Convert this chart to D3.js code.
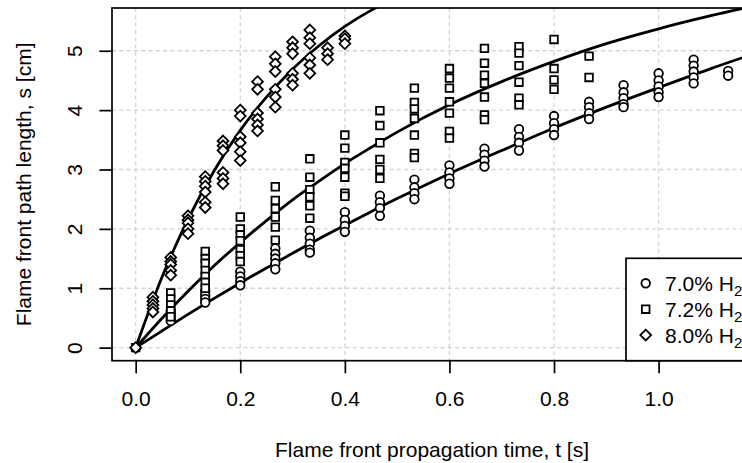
<!DOCTYPE html>
<html>
<head>
<meta charset="utf-8">
<script src="https://cdn.jsdelivr.net/npm/d3@7"></script>
<style>
    body { margin: 0; background: #fff; }
    text { font-family: "Liberation Sans", Arial, sans-serif; }
</style>
</head>
<body>
<svg id="chart"></svg>
<script>
const times70 = [0, 0.067, 0.133, 0.2, 0.267, 0.333, 0.4, 0.467, 0.533, 0.6, 0.667, 0.733, 0.8, 0.867, 0.933, 1.0, 1.067, 1.133];
const s70 = [
    [0], [0.62, 0.56, 0.5, 0.45], [0.95, 0.88, 0.82, 0.76], [1.28, 1.2, 1.12, 1.05],
    [1.67, 1.58, 1.5, 1.42, 1.32], [1.97, 1.85, 1.75, 1.65, 1.6], [2.28, 2.15, 2.05, 1.95],
    [2.56, 2.45, 2.35, 2.22], [2.83, 2.7, 2.6, 2.5], [3.07, 2.95, 2.85, 2.76],
    [3.35, 3.25, 3.15, 3.05], [3.68, 3.55, 3.45, 3.32], [3.9, 3.78, 3.68, 3.58],
    [4.14, 4.05, 3.95, 3.85], [4.42, 4.3, 4.2, 4.1, 4.05], [4.62, 4.5, 4.4, 4.3, 4.22],
    [4.85, 4.75, 4.65, 4.55, 4.45], [4.66, 4.58]
];

const times72 = [0, 0.067, 0.133, 0.2, 0.267, 0.333, 0.4, 0.467, 0.533, 0.6, 0.667, 0.733, 0.8, 0.867];
const s72 = [
    [0], [0.92, 0.82, 0.72, 0.62, 0.52], [1.62, 1.5, 1.42, 1.3, 1.2, 1.1, 1.0],
    [2.2, 2.0, 1.9, 1.8, 1.65, 1.55, 1.45], [2.71, 2.48, 2.34, 2.2, 2.03, 1.81],
    [3.18, 2.87, 2.66, 2.54, 2.39, 2.18], [3.58, 3.36, 3.12, 3.02, 2.87, 2.6, 2.55],
    [3.99, 3.74, 3.45, 3.17, 3.0, 2.85], [4.37, 4.13, 4.02, 3.86, 3.58, 3.27, 3.2],
    [4.7, 4.54, 4.37, 4.14, 3.95, 3.64, 3.53], [5.04, 4.79, 4.59, 4.45, 4.22, 3.92, 3.84],
    [5.07, 4.96, 4.75, 4.47, 4.2, 4.09], [5.19, 4.7, 4.51, 4.35], [4.91, 4.55]
];

const times80 = [0, 0.033, 0.067, 0.1, 0.133, 0.167, 0.2, 0.233, 0.267, 0.3, 0.333, 0.367, 0.4];
const s80 = [
    [0], [0.85, 0.78, 0.72, 0.66, 0.6], [1.52, 1.45, 1.4, 1.3, 1.22], [2.22, 2.15, 2.1, 2.0, 1.92],
    [2.88, 2.8, 2.72, 2.62, 2.45, 2.36], [3.48, 3.4, 3.32, 2.95, 2.85, 2.76],
    [4.0, 3.9, 3.55, 3.45, 3.3, 3.15], [4.48, 4.35, 3.95, 3.85, 3.75, 3.65],
    [4.9, 4.78, 4.65, 4.35, 4.22, 4.05], [5.15, 5.05, 4.95, 4.62, 4.52, 4.42],
    [5.35, 5.22, 5.12, 4.88, 4.76, 4.62], [5.05, 4.95, 4.85], [5.25, 5.2, 5.12]
];

// fitted curves, read at these times
const fitTimes = [0, 0.05, 0.1, 0.15, 0.2, 0.25, 0.3, 0.35, 0.4, 0.45, 0.5, 0.6, 0.7, 0.8, 0.9, 1.0, 1.1, 1.2];
const fit70 = [0, 0.28, 0.56, 0.83, 1.09, 1.34, 1.59, 1.83, 2.06, 2.29, 2.51, 2.93, 3.32, 3.70, 4.05, 4.38, 4.70, 5.0];
const fit72 = [0, 0.49, 0.95, 1.38, 1.77, 2.14, 2.49, 2.80, 3.10, 3.37, 3.63, 4.09, 4.48, 4.82, 5.12, 5.37, 5.59, 5.79];
const fit80 = [0, 1.18, 2.16, 2.98, 3.66, 4.22, 4.69, 5.08, 5.41, 5.68, 5.90, 6.24];

const xTicks = [0, 0.2, 0.4, 0.6, 0.8, 1.0];
const yTicks = [0, 1, 2, 3, 4, 5];
const legendLabels = ["7.0% H", "7.2% H", "8.0% H"];

const width = 742, height = 463;
const plot = {left: 112, top: 8, right: 752, bottom: 360.7};
const fontSize = 21;

const svg = d3.select("#chart")
    .attr("width", width)
    .attr("height", height);

const x = d3.scaleLinear().domain([-0.0453, 1.1786]).range([plot.left, plot.right]);
const y = d3.scaleLinear().domain([-0.22, 5.72]).range([plot.bottom, plot.top]);

svg.append("clipPath").attr("id", "clip")
    .append("rect")
    .attr("x", plot.left).attr("y", plot.top)
    .attr("width", plot.right - plot.left).attr("height", plot.bottom - plot.top);

// grid
const grid = svg.append("g")
    .attr("stroke", "#d3d3d3")
    .attr("stroke-width", 1.3)
    .attr("stroke-dasharray", "4,3.3");
grid.selectAll(".gx").data(xTicks).enter().append("line")
    .attr("x1", d => x(d)).attr("x2", d => x(d))
    .attr("y1", plot.top).attr("y2", plot.bottom);
grid.selectAll(".gy").data(yTicks).enter().append("line")
    .attr("x1", plot.left).attr("x2", plot.right)
    .attr("y1", d => y(d)).attr("y2", d => y(d));

// symbols like R pch 1, 0, 5
function circlePath(r) {
    return `M${r},0A${r},${r} 0 1,1 ${-r},0A${r},${r} 0 1,1 ${r},0Z`;
}
function squarePath(h) {
    return `M${-h},${-h}H${h}V${h}H${-h}Z`;
}
function diamondPath(h) {
    return `M0,${-h}L${h},0L0,${h}L${-h},0Z`;
}

const series = [
    {t: times70, s: s70, fitS: fit70, shape: circlePath(4.3)},
    {t: times72, s: s72, fitS: fit72, shape: squarePath(3.8)},
    {t: times80, s: s80, fitS: fit80, shape: diamondPath(5.4)}
];

const dataLayer = svg.append("g").attr("clip-path", "url(#clip)");

// fitted curves
const line = d3.line()
    .x(d => x(d[0]))
    .y(d => y(d[1]))
    .curve(d3.curveMonotoneX);

series.forEach(ser => {
    const pts = ser.fitS.map((v, i) => [fitTimes[i], v]);
    dataLayer.append("path")
        .attr("d", line(pts))
        .attr("fill", "none")
        .attr("stroke", "black")
        .attr("stroke-width", 2.8);
});

// points
series.forEach(ser => {
    const pts = [];
    ser.t.forEach((t, i) => ser.s[i].forEach(v => pts.push([t, v])));
    dataLayer.selectAll(null)
        .data(pts)
        .enter().append("path")
        .attr("d", ser.shape)
        .attr("transform", d => `translate(${x(d[0])},${y(d[1])})`)
        .attr("fill", "white")
        .attr("stroke", "black")
        .attr("stroke-width", 1.8);
});

// axes
const xAxis = svg.append("g")
    .attr("transform", `translate(0,${plot.bottom})`)
    .call(d3.axisBottom(x).tickValues(xTicks).tickFormat(d3.format(".1f"))
        .tickSize(12.6).tickPadding(17.8).tickSizeOuter(0));
xAxis.select(".domain").remove();

const yAxis = svg.append("g")
    .attr("transform", `translate(${plot.left},0)`)
    .call(d3.axisLeft(y).tickValues(yTicks).tickFormat(d3.format("d"))
        .tickSize(12.6).tickSizeOuter(0));
yAxis.select(".domain").remove();
yAxis.selectAll("text")
    .attr("x", null).attr("dy", null)
    .attr("text-anchor", "middle")
    .attr("transform", "translate(-30.2,0) rotate(-90)");

svg.selectAll(".tick line").attr("stroke", "black").attr("stroke-width", 1.7);
svg.selectAll(".tick text")
    .attr("fill", "black")
    .style("font-size", fontSize + "px")
    .style("font-family", "'Liberation Sans', Arial, sans-serif");

// box
svg.append("rect")
    .attr("x", plot.left).attr("y", plot.top)
    .attr("width", plot.right - plot.left).attr("height", plot.bottom - plot.top)
    .attr("fill", "none")
    .attr("stroke", "black")
    .attr("stroke-width", 1.7);

// axis titles
svg.append("text")
    .attr("x", (plot.left + plot.right) / 2)
    .attr("y", 456.5)
    .attr("text-anchor", "middle")
    .style("font-size", fontSize + "px")
    .text("Flame front propagation time, t [s]");

svg.append("text")
    .attr("transform", `translate(31.4,${(plot.top + plot.bottom) / 2}) rotate(-90)`)
    .attr("text-anchor", "middle")
    .style("font-size", fontSize + "px")
    .text("Flame front path length, s [cm]");

// legend
const legend = svg.append("g");
legend.append("rect")
    .attr("x", 626).attr("y", 258.3)
    .attr("width", plot.right - 626).attr("height", plot.bottom - 258.3)
    .attr("fill", "white")
    .attr("stroke", "black")
    .attr("stroke-width", 1.7);

legendLabels.forEach((lab, i) => {
    const cy = 283.3 + i * 25.9;
    legend.append("path")
        .attr("d", series[i].shape)
        .attr("transform", `translate(645.7,${cy})`)
        .attr("fill", "white")
        .attr("stroke", "black")
        .attr("stroke-width", 1.8);
    const t = legend.append("text")
        .attr("x", 665)
        .attr("y", cy + 7.5)
        .style("font-size", fontSize + "px")
        .text(lab);
    t.append("tspan")
        .attr("dy", 5)
        .style("font-size", "15px")
        .text("2");
});
</script>
</body>
</html>
